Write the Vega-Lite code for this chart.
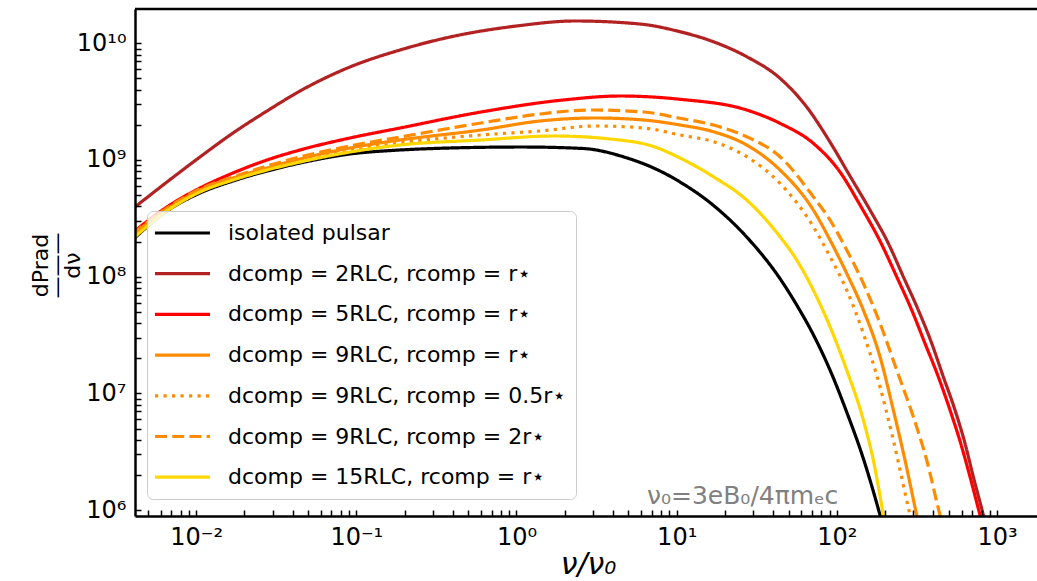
{
 "$schema": "https://vega.github.io/schema/vega-lite/v6.json",
 "width": 902, "height": 507,
 "autosize": {"type": "none"},
 "padding": {"left": 135, "top": 9, "right": 0, "bottom": 65},
 "background": "white",
 "config": {"view": {"stroke": null}, "font": "DejaVu Sans"},
 "layer": [
  {
   "data": {"values": [
    {"s":"isolated pulsar","x":0.004,"y":2.06e8},{"s":"isolated pulsar","x":0.00658,"y":3.66e8},{"s":"isolated pulsar","x":0.01057,"y":5.21e8},{"s":"isolated pulsar","x":0.01699,"y":6.61e8},{"s":"isolated pulsar","x":0.02771,"y":8.05e8},{"s":"isolated pulsar","x":0.04452,"y":9.42e8},{"s":"isolated pulsar","x":0.09135,"y":1.126e9},{"s":"isolated pulsar","x":0.1874,"y":1.218e9},{"s":"isolated pulsar","x":0.3845,"y":1.267e9},{"s":"isolated pulsar","x":1.082,"y":1.292e9},{"s":"isolated pulsar","x":2.601,"y":1.255e9},{"s":"isolated pulsar","x":4.688,"y":1.061e9},{"s":"isolated pulsar","x":8.33,"y":7.74e8},{"s":"isolated pulsar","x":10.49,"y":6.48e8},{"s":"isolated pulsar","x":16.93,"y":4.09e8},{"s":"isolated pulsar","x":27.35,"y":2.189e8},{"s":"isolated pulsar","x":44.14,"y":9.63e7},{"s":"isolated pulsar","x":56.12,"y":5.72e7},{"s":"isolated pulsar","x":71.24,"y":3.19e7},{"s":"isolated pulsar","x":90.56,"y":1.587e7},{"s":"isolated pulsar","x":115.1,"y":6.93e6},{"s":"isolated pulsar","x":146.2,"y":2.768e6},{"s":"isolated pulsar","x":185.8,"y":9.08e5},{"s":"isolated pulsar","x":195.4,"y":7.03e5},

    {"s":"dcomp = 2RLC, rcomp = r⋆","x":0.004,"y":3.80e8},{"s":"dcomp = 2RLC, rcomp = r⋆","x":0.00658,"y":6.48e8},{"s":"dcomp = 2RLC, rcomp = r⋆","x":0.01057,"y":1.061e9},{"s":"dcomp = 2RLC, rcomp = r⋆","x":0.01699,"y":1.703e9},{"s":"dcomp = 2RLC, rcomp = r⋆","x":0.02771,"y":2.630e9},{"s":"dcomp = 2RLC, rcomp = r⋆","x":0.04452,"y":3.90e9},{"s":"dcomp = 2RLC, rcomp = r⋆","x":0.09135,"y":6.27e9},{"s":"dcomp = 2RLC, rcomp = r⋆","x":0.1874,"y":8.76e9},{"s":"dcomp = 2RLC, rcomp = r⋆","x":0.3845,"y":1.132e10},{"s":"dcomp = 2RLC, rcomp = r⋆","x":1.0,"y":1.407e10},{"s":"dcomp = 2RLC, rcomp = r⋆","x":2.318,"y":1.553e10},{"s":"dcomp = 2RLC, rcomp = r⋆","x":5.902,"y":1.463e10},{"s":"dcomp = 2RLC, rcomp = r⋆","x":10.49,"y":1.257e10},{"s":"dcomp = 2RLC, rcomp = r⋆","x":17.0,"y":1.030e10},{"s":"dcomp = 2RLC, rcomp = r⋆","x":27.35,"y":7.68e9},{"s":"dcomp = 2RLC, rcomp = r⋆","x":44.14,"y":5.013e9},{"s":"dcomp = 2RLC, rcomp = r⋆","x":64.79,"y":2.846e9},{"s":"dcomp = 2RLC, rcomp = r⋆","x":90.56,"y":1.426e9},{"s":"dcomp = 2RLC, rcomp = r⋆","x":120.7,"y":7.29e8},{"s":"dcomp = 2RLC, rcomp = r⋆","x":160.9,"y":3.729e8},{"s":"dcomp = 2RLC, rcomp = r⋆","x":209.4,"y":1.933e8},{"s":"dcomp = 2RLC, rcomp = r⋆","x":259.8,"y":1.0e8},{"s":"dcomp = 2RLC, rcomp = r⋆","x":322.2,"y":5.184e7},{"s":"dcomp = 2RLC, rcomp = r⋆","x":390.7,"y":2.687e7},{"s":"dcomp = 2RLC, rcomp = r⋆","x":461.6,"y":1.390e7},{"s":"dcomp = 2RLC, rcomp = r⋆","x":546.0,"y":7.21e6},{"s":"dcomp = 2RLC, rcomp = r⋆","x":630.4,"y":3.736e6},{"s":"dcomp = 2RLC, rcomp = r⋆","x":710.3,"y":1.933e6},{"s":"dcomp = 2RLC, rcomp = r⋆","x":820.2,"y":9.08e5},{"s":"dcomp = 2RLC, rcomp = r⋆","x":858.7,"y":7.03e5},

    {"s":"dcomp = 5RLC, rcomp = r⋆","x":0.004,"y":2.37e8},{"s":"dcomp = 5RLC, rcomp = r⋆","x":0.00658,"y":3.96e8},{"s":"dcomp = 5RLC, rcomp = r⋆","x":0.01057,"y":5.75e8},{"s":"dcomp = 5RLC, rcomp = r⋆","x":0.01699,"y":7.74e8},{"s":"dcomp = 5RLC, rcomp = r⋆","x":0.02771,"y":1.0e9},{"s":"dcomp = 5RLC, rcomp = r⋆","x":0.04452,"y":1.218e9},{"s":"dcomp = 5RLC, rcomp = r⋆","x":0.09135,"y":1.544e9},{"s":"dcomp = 5RLC, rcomp = r⋆","x":0.1874,"y":1.880e9},{"s":"dcomp = 5RLC, rcomp = r⋆","x":0.6004,"y":2.578e9},{"s":"dcomp = 5RLC, rcomp = r⋆","x":1.951,"y":3.266e9},{"s":"dcomp = 5RLC, rcomp = r⋆","x":4.428,"y":3.535e9},{"s":"dcomp = 5RLC, rcomp = r⋆","x":10.49,"y":3.313e9},{"s":"dcomp = 5RLC, rcomp = r⋆","x":27.35,"y":2.682e9},{"s":"dcomp = 5RLC, rcomp = r⋆","x":44.14,"y":2.063e9},{"s":"dcomp = 5RLC, rcomp = r⋆","x":71.24,"y":1.390e9},{"s":"dcomp = 5RLC, rcomp = r⋆","x":104.6,"y":7.89e8},{"s":"dcomp = 5RLC, rcomp = r⋆","x":139.4,"y":4.116e8},{"s":"dcomp = 5RLC, rcomp = r⋆","x":185.8,"y":2.022e8},{"s":"dcomp = 5RLC, rcomp = r⋆","x":236.2,"y":1.0e8},{"s":"dcomp = 5RLC, rcomp = r⋆","x":293.0,"y":5.184e7},{"s":"dcomp = 5RLC, rcomp = r⋆","x":354.6,"y":2.687e7},{"s":"dcomp = 5RLC, rcomp = r⋆","x":429.5,"y":1.390e7},{"s":"dcomp = 5RLC, rcomp = r⋆","x":508.2,"y":7.21e6},{"s":"dcomp = 5RLC, rcomp = r⋆","x":592.6,"y":3.736e6},{"s":"dcomp = 5RLC, rcomp = r⋆","x":677.5,"y":1.933e6},{"s":"dcomp = 5RLC, rcomp = r⋆","x":782.4,"y":9.08e5},{"s":"dcomp = 5RLC, rcomp = r⋆","x":822.5,"y":7.03e5},

    {"s":"dcomp = 9RLC, rcomp = r⋆","x":0.004,"y":2.28e8},{"s":"dcomp = 9RLC, rcomp = r⋆","x":0.00658,"y":3.80e8},{"s":"dcomp = 9RLC, rcomp = r⋆","x":0.01057,"y":5.53e8},{"s":"dcomp = 9RLC, rcomp = r⋆","x":0.01699,"y":7.01e8},{"s":"dcomp = 9RLC, rcomp = r⋆","x":0.02771,"y":8.54e8},{"s":"dcomp = 9RLC, rcomp = r⋆","x":0.04452,"y":1.020e9},{"s":"dcomp = 9RLC, rcomp = r⋆","x":0.09135,"y":1.267e9},{"s":"dcomp = 9RLC, rcomp = r⋆","x":0.1874,"y":1.484e9},{"s":"dcomp = 9RLC, rcomp = r⋆","x":0.6004,"y":1.807e9},{"s":"dcomp = 9RLC, rcomp = r⋆","x":1.402,"y":2.159e9},{"s":"dcomp = 9RLC, rcomp = r⋆","x":3.090,"y":2.291e9},{"s":"dcomp = 9RLC, rcomp = r⋆","x":6.251,"y":2.2e9},{"s":"dcomp = 9RLC, rcomp = r⋆","x":10.49,"y":1.995e9},{"s":"dcomp = 9RLC, rcomp = r⋆","x":16.93,"y":1.748e9},{"s":"dcomp = 9RLC, rcomp = r⋆","x":27.35,"y":1.344e9},{"s":"dcomp = 9RLC, rcomp = r⋆","x":44.14,"y":8.21e8},{"s":"dcomp = 9RLC, rcomp = r⋆","x":71.24,"y":3.729e8},{"s":"dcomp = 9RLC, rcomp = r⋆","x":90.56,"y":2.064e8},{"s":"dcomp = 9RLC, rcomp = r⋆","x":115.1,"y":1.069e8},{"s":"dcomp = 9RLC, rcomp = r⋆","x":146.2,"y":5.184e7},{"s":"dcomp = 9RLC, rcomp = r⋆","x":185.8,"y":2.063e7},{"s":"dcomp = 9RLC, rcomp = r⋆","x":225.0,"y":7.21e6},{"s":"dcomp = 9RLC, rcomp = r⋆","x":266.1,"y":2.687e6},{"s":"dcomp = 9RLC, rcomp = r⋆","x":314.8,"y":9.08e5},{"s":"dcomp = 9RLC, rcomp = r⋆","x":327.8,"y":7.03e5},

    {"s":"dcomp = 9RLC, rcomp = 0.5r⋆","x":0.004,"y":2.23e8},{"s":"dcomp = 9RLC, rcomp = 0.5r⋆","x":0.00658,"y":3.73e8},{"s":"dcomp = 9RLC, rcomp = 0.5r⋆","x":0.01057,"y":5.42e8},{"s":"dcomp = 9RLC, rcomp = 0.5r⋆","x":0.01699,"y":6.88e8},{"s":"dcomp = 9RLC, rcomp = 0.5r⋆","x":0.02771,"y":8.38e8},{"s":"dcomp = 9RLC, rcomp = 0.5r⋆","x":0.04452,"y":9.80e8},{"s":"dcomp = 9RLC, rcomp = 0.5r⋆","x":0.09135,"y":1.194e9},{"s":"dcomp = 9RLC, rcomp = 0.5r⋆","x":0.1874,"y":1.399e9},{"s":"dcomp = 9RLC, rcomp = 0.5r⋆","x":0.6004,"y":1.638e9},{"s":"dcomp = 9RLC, rcomp = 0.5r⋆","x":1.402,"y":1.772e9},{"s":"dcomp = 9RLC, rcomp = 0.5r⋆","x":3.090,"y":1.956e9},{"s":"dcomp = 9RLC, rcomp = 0.5r⋆","x":6.251,"y":1.88e9},{"s":"dcomp = 9RLC, rcomp = 0.5r⋆","x":10.49,"y":1.638e9},{"s":"dcomp = 9RLC, rcomp = 0.5r⋆","x":16.93,"y":1.435e9},{"s":"dcomp = 9RLC, rcomp = 0.5r⋆","x":27.35,"y":1.067e9},{"s":"dcomp = 9RLC, rcomp = 0.5r⋆","x":44.14,"y":6.314e8},{"s":"dcomp = 9RLC, rcomp = 0.5r⋆","x":71.24,"y":2.683e8},{"s":"dcomp = 9RLC, rcomp = 0.5r⋆","x":90.56,"y":1.484e8},{"s":"dcomp = 9RLC, rcomp = 0.5r⋆","x":115.1,"y":7.69e7},{"s":"dcomp = 9RLC, rcomp = 0.5r⋆","x":146.2,"y":3.273e7},{"s":"dcomp = 9RLC, rcomp = 0.5r⋆","x":185.8,"y":1.141e7},{"s":"dcomp = 9RLC, rcomp = 0.5r⋆","x":225.0,"y":3.988e6},{"s":"dcomp = 9RLC, rcomp = 0.5r⋆","x":285.9,"y":9.08e5},{"s":"dcomp = 9RLC, rcomp = 0.5r⋆","x":298.5,"y":7.03e5},

    {"s":"dcomp = 9RLC, rcomp = 2r⋆","x":0.004,"y":2.32e8},{"s":"dcomp = 9RLC, rcomp = 2r⋆","x":0.00658,"y":3.88e8},{"s":"dcomp = 9RLC, rcomp = 2r⋆","x":0.01057,"y":5.64e8},{"s":"dcomp = 9RLC, rcomp = 2r⋆","x":0.01699,"y":7.15e8},{"s":"dcomp = 9RLC, rcomp = 2r⋆","x":0.02771,"y":8.88e8},{"s":"dcomp = 9RLC, rcomp = 2r⋆","x":0.04452,"y":1.061e9},{"s":"dcomp = 9RLC, rcomp = 2r⋆","x":0.09135,"y":1.318e9},{"s":"dcomp = 9RLC, rcomp = 2r⋆","x":0.1874,"y":1.574e9},{"s":"dcomp = 9RLC, rcomp = 2r⋆","x":0.6004,"y":2.075e9},{"s":"dcomp = 9RLC, rcomp = 2r⋆","x":1.402,"y":2.478e9},{"s":"dcomp = 9RLC, rcomp = 2r⋆","x":2.917,"y":2.682e9},{"s":"dcomp = 9RLC, rcomp = 2r⋆","x":6.251,"y":2.578e9},{"s":"dcomp = 9RLC, rcomp = 2r⋆","x":10.49,"y":2.277e9},{"s":"dcomp = 9RLC, rcomp = 2r⋆","x":16.93,"y":1.995e9},{"s":"dcomp = 9RLC, rcomp = 2r⋆","x":27.35,"y":1.584e9},{"s":"dcomp = 9RLC, rcomp = 2r⋆","x":44.14,"y":1.067e9},{"s":"dcomp = 9RLC, rcomp = 2r⋆","x":71.24,"y":4.846e8},{"s":"dcomp = 9RLC, rcomp = 2r⋆","x":90.56,"y":3.061e8},{"s":"dcomp = 9RLC, rcomp = 2r⋆","x":115.1,"y":1.693e8},{"s":"dcomp = 9RLC, rcomp = 2r⋆","x":146.2,"y":8.78e7},{"s":"dcomp = 9RLC, rcomp = 2r⋆","x":185.8,"y":3.989e7},{"s":"dcomp = 9RLC, rcomp = 2r⋆","x":236.2,"y":1.587e7},{"s":"dcomp = 9RLC, rcomp = 2r⋆","x":299.9,"y":6.317e6},{"s":"dcomp = 9RLC, rcomp = 2r⋆","x":363.5,"y":2.687e6},{"s":"dcomp = 9RLC, rcomp = 2r⋆","x":440.1,"y":9.08e5},{"s":"dcomp = 9RLC, rcomp = 2r⋆","x":462.9,"y":7.03e5},

    {"s":"dcomp = 15RLC, rcomp = r⋆","x":0.004,"y":2.10e8},{"s":"dcomp = 15RLC, rcomp = r⋆","x":0.00658,"y":3.66e8},{"s":"dcomp = 15RLC, rcomp = r⋆","x":0.01057,"y":5.32e8},{"s":"dcomp = 15RLC, rcomp = r⋆","x":0.01699,"y":6.74e8},{"s":"dcomp = 15RLC, rcomp = r⋆","x":0.02771,"y":8.21e8},{"s":"dcomp = 15RLC, rcomp = r⋆","x":0.04452,"y":9.61e8},{"s":"dcomp = 15RLC, rcomp = r⋆","x":0.09135,"y":1.171e9},{"s":"dcomp = 15RLC, rcomp = r⋆","x":0.1874,"y":1.344e9},{"s":"dcomp = 15RLC, rcomp = r⋆","x":0.6004,"y":1.484e9},{"s":"dcomp = 15RLC, rcomp = r⋆","x":1.714,"y":1.606e9},{"s":"dcomp = 15RLC, rcomp = r⋆","x":3.833,"y":1.514e9},{"s":"dcomp = 15RLC, rcomp = r⋆","x":7.319,"y":1.292e9},{"s":"dcomp = 15RLC, rcomp = r⋆","x":10.49,"y":1.040e9},{"s":"dcomp = 15RLC, rcomp = r⋆","x":16.93,"y":7.19e8},{"s":"dcomp = 15RLC, rcomp = r⋆","x":27.35,"y":4.54e8},{"s":"dcomp = 15RLC, rcomp = r⋆","x":44.14,"y":2.202e8},{"s":"dcomp = 15RLC, rcomp = r⋆","x":56.12,"y":1.391e8},{"s":"dcomp = 15RLC, rcomp = r⋆","x":71.24,"y":7.69e7},{"s":"dcomp = 15RLC, rcomp = r⋆","x":90.56,"y":3.729e7},{"s":"dcomp = 15RLC, rcomp = r⋆","x":115.1,"y":1.587e7},{"s":"dcomp = 15RLC, rcomp = r⋆","x":146.2,"y":5.918e6},{"s":"dcomp = 15RLC, rcomp = r⋆","x":168.7,"y":2.687e6},{"s":"dcomp = 15RLC, rcomp = r⋆","x":194.9,"y":9.08e5},{"s":"dcomp = 15RLC, rcomp = r⋆","x":201.2,"y":7.03e5}
   ]},
   "mark": {"type": "line", "clip": true, "strokeWidth": 3.2, "interpolate": "monotone"},
   "encoding": {
    "x": {"field": "x", "type": "quantitative",
     "scale": {"type": "log", "domain": [0.0041548, 1774.9], "nice": false, "zero": false},
     "axis": {
      "values": [0.005,0.006,0.007,0.008,0.009,0.01,0.02,0.03,0.04,0.05,0.06,0.07,0.08,0.09,0.1,0.2,0.3,0.4,0.5,0.6,0.7,0.8,0.9,1,2,3,4,5,6,7,8,9,10,20,30,40,50,60,70,80,90,100,200,300,400,500,600,700,800,900,1000],
      "labelExpr": "abs(log(datum.value)/LN10 - round(log(datum.value)/LN10)) > 0.01 ? '' : '10' + ['⁻²','⁻¹','⁰','¹','²','³'][round(log(datum.value)/LN10) + 2]",
      "labelFont": "DejaVu Sans", "labelFontSize": 24, "labelColor": "black", "labelPadding": 15,
      "labelOverlap": false, "labelFlush": false,
      "tickSize": -6, "tickColor": "black", "tickWidth": 1.5,
      "domainColor": "black", "domainWidth": 2.5, "grid": false, "zindex": 1,
      "title": "ν/ν₀", "titleFont": "DejaVu Sans", "titleFontSize": 30, "titleFontStyle": "italic", "titleFontWeight": "normal", "titleColor": "black",
      "titleX": 453, "titleY": 57, "titleBaseline": "alphabetic", "titleAlign": "center",
      "encode": {"ticks": {"enter": {"y2": {"signal": "abs(log(datum.value)/LN10 - round(log(datum.value)/LN10)) < 0.01 ? -10 : -6"}}, "update": {"y2": {"signal": "abs(log(datum.value)/LN10 - round(log(datum.value)/LN10)) < 0.01 ? -10 : -6"}}}}
     }
    },
    "y": {"field": "y", "type": "quantitative",
     "scale": {"type": "log", "domain": [889900, 1.9676e10], "nice": false, "zero": false},
     "axis": {
      "values": [1e6,2e6,3e6,4e6,5e6,6e6,7e6,8e6,9e6,1e7,2e7,3e7,4e7,5e7,6e7,7e7,8e7,9e7,1e8,2e8,3e8,4e8,5e8,6e8,7e8,8e8,9e8,1e9,2e9,3e9,4e9,5e9,6e9,7e9,8e9,9e9,1e10],
      "labelExpr": "abs(log(datum.value)/LN10 - round(log(datum.value)/LN10)) > 0.01 ? '' : '10' + ['⁶','⁷','⁸','⁹','¹⁰'][round(log(datum.value)/LN10) - 6]",
      "labelFont": "DejaVu Sans", "labelFontSize": 24, "labelColor": "black", "labelPadding": 15,
      "labelOverlap": false, "labelFlush": false,
      "tickSize": -6, "tickColor": "black", "tickWidth": 1.5,
      "domainColor": "black", "domainWidth": 2.5, "grid": false, "zindex": 1,
      "title": ["dPrad", "———", "dν"], "titleFont": "DejaVu Sans", "titleFontSize": 22, "titleFontWeight": "normal", "titleColor": "black",
      "titleLineHeight": 16, "titleX": -95, "titleY": 256, "titleAngle": -90, "titleBaseline": "middle", "titleAlign": "center",
      "encode": {"ticks": {"enter": {"x2": {"signal": "abs(log(datum.value)/LN10 - round(log(datum.value)/LN10)) < 0.01 ? 10 : 6"}}, "update": {"x2": {"signal": "abs(log(datum.value)/LN10 - round(log(datum.value)/LN10)) < 0.01 ? 10 : 6"}}}}
     }
    },
    "color": {"field": "s", "type": "nominal",
     "scale": {"domain": ["isolated pulsar","dcomp = 2RLC, rcomp = r⋆","dcomp = 5RLC, rcomp = r⋆","dcomp = 9RLC, rcomp = r⋆","dcomp = 9RLC, rcomp = 0.5r⋆","dcomp = 9RLC, rcomp = 2r⋆","dcomp = 15RLC, rcomp = r⋆"],
      "range": ["#000000","#b22222","#ff0000","#ff8c00","#ff8c00","#ff8c00","#ffd700"]},
     "legend": {"title": null, "orient": "none", "legendX": 12, "legendY": 202, "symbolType": "M-1.4,0H4.1", "symbolSize": 400, "symbolStrokeWidth": 3.2, "labelFont": "DejaVu Sans", "labelFontSize": 22, "labelColor": "black", "labelOffset": 47, "rowPadding": 17.7, "padding": 10, "fillColor": "rgba(255,255,255,0.8)", "strokeColor": "#cccccc", "cornerRadius": 6, "labelLimit": 0}
    },
    "strokeDash": {"field": "s", "type": "nominal",
     "scale": {"domain": ["isolated pulsar","dcomp = 2RLC, rcomp = r⋆","dcomp = 5RLC, rcomp = r⋆","dcomp = 9RLC, rcomp = r⋆","dcomp = 9RLC, rcomp = 0.5r⋆","dcomp = 9RLC, rcomp = 2r⋆","dcomp = 15RLC, rcomp = r⋆"],
      "range": [[1,0],[1,0],[1,0],[1,0],[3.2,5.3],[12,5.2],[1,0]]},
     "legend": {"title": null, "orient": "none", "legendX": 12, "legendY": 202, "symbolType": "M-1.4,0H4.1", "symbolSize": 400, "symbolStrokeWidth": 3.2, "labelFont": "DejaVu Sans", "labelFontSize": 22, "labelColor": "black", "labelOffset": 47, "rowPadding": 17.7, "padding": 10, "fillColor": "rgba(255,255,255,0.8)", "strokeColor": "#cccccc", "cornerRadius": 6, "labelLimit": 0}
    }
   }
  },
  {
   "data": {"values": [{"x": 6.526, "y": 1.127e6, "t": "ν₀=3eB₀/4πmₑc"}]},
   "mark": {"type": "text", "align": "left", "baseline": "alphabetic", "font": "DejaVu Sans", "fontSize": 25, "color": "#808080"},
   "encoding": {
    "x": {"field": "x", "type": "quantitative"},
    "y": {"field": "y", "type": "quantitative"},
    "text": {"field": "t"}
   }
  },
  {
   "data": {"values": [{}]},
   "mark": {"type": "rule", "color": "black", "strokeWidth": 2.5},
   "encoding": {"y": {"datum": 1.9676e10, "type": "quantitative"}}
  }
 ]
}
